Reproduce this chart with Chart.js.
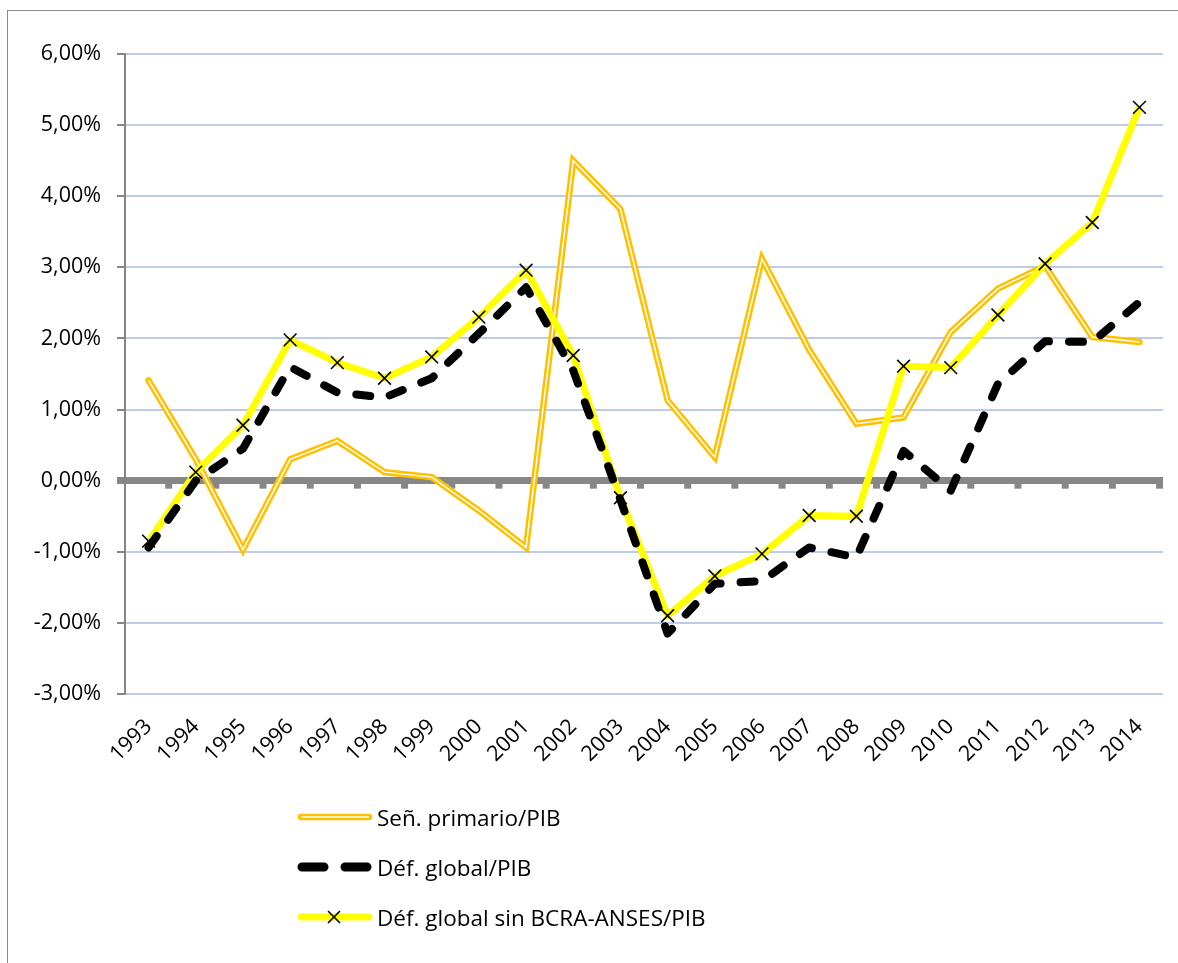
<!DOCTYPE html>
<html>
<head>
<meta charset="utf-8">
<script src="https://cdn.jsdelivr.net/npm/chart.js@4.4.1/dist/chart.umd.min.js"></script>
<style>
  body { margin: 0; background: #fff; }
  #wrap { position: relative; width: 1178px; height: 963px; overflow: hidden; }
  #frame { position: absolute; left: 7px; top: 10px; width: 1300px; height: 1100px;
           border-left: 1.5px solid #8c8c8c; border-top: 1.5px solid #8c8c8c; }
  #legend { position: absolute; left: 297px; top: 792px; font-family: "Open Sans", sans-serif;
            font-size: 22.5px; color: #000; }
  .row { display: flex; align-items: center; height: 50px; }
  .row svg { margin-right: 4px; }
</style>
</head>
<body>
<div id="wrap">
  <div id="frame"></div>
  <canvas id="chart" width="1178" height="963"></canvas>
  <div id="legend"></div>
</div>
<script>
// data
const years = ['1993', '1994', '1995', '1996', '1997', '1998', '1999', '2000', '2001', '2002', '2003',
               '2004', '2005', '2006', '2007', '2008', '2009', '2010', '2011', '2012', '2013', '2014'];
const primario = [1.41, 0.30, -0.97, 0.30, 0.56, 0.12, 0.05, -0.42, -0.94, 4.50, 3.82,
                  1.13, 0.33, 3.12, 1.84, 0.80, 0.89, 2.09, 2.70, 3.02, 2.02, 1.95];
const global = [-0.94, 0.00, 0.45, 1.60, 1.24, 1.17, 1.44, 2.07, 2.72, 1.55, -0.27,
                -2.15, -1.45, -1.41, -0.94, -1.08, 0.42, -0.14, 1.36, 1.96, 1.95, 2.51];
const sinBcra = [-0.85, 0.12, 0.78, 1.98, 1.66, 1.44, 1.74, 2.30, 2.96, 1.76, -0.24,
                 -1.90, -1.34, -1.03, -0.49, -0.50, 1.61, 1.59, 2.33, 3.05, 3.63, 5.25];
const yTickLabels = ['-3,00%', '-2,00%', '-1,00%', '0,00%', '1,00%', '2,00%', '3,00%', '4,00%', '5,00%', '6,00%'];
const seriesNames = ['Señ. primario/PIB', 'Déf. global/PIB', 'Déf. global sin BCRA-ANSES/PIB'];

const ORANGE = '#ffc000';
const YELLOW = '#ffff00';
const FONT = '"Open Sans", sans-serif';

// little ticks hanging under the zero line, at category boundaries
const zeroTicks = {
    id: 'zeroTicks',
    beforeDatasetsDraw(chart) {
        const x = chart.scales.x, y = chart.scales.y;
        const y0 = y.getPixelForValue(0);
        const step = x.getPixelForValue(1) - x.getPixelForValue(0);
        const ctx = chart.ctx;
        ctx.save();
        ctx.fillStyle = '#878787';
        for (let i = 0; i < years.length; i++) {
            const bx = x.getPixelForValue(i) + step / 2;
            ctx.fillRect(bx - 7, y0 + 3, 7, 5);
        }
        ctx.restore();
    }
};

const ctx = document.getElementById('chart').getContext('2d');
const chart = new Chart(ctx, {
    type: 'line',
    data: {
        labels: years,
        datasets: [
            {
                label: seriesNames[1],
                data: global,
                borderColor: '#000',
                borderWidth: 8,
                borderDash: [14, 20],
                borderCapStyle: 'round',
                borderJoinStyle: 'round',
                pointRadius: 0,
                tension: 0,
                order: 0
            },
            {
                label: seriesNames[2],
                data: sinBcra,
                borderColor: YELLOW,
                borderWidth: 7,
                borderJoinStyle: 'round',
                pointStyle: 'crossRot',
                pointRadius: 9,
                pointBorderColor: '#000',
                pointBorderWidth: 1.6,
                tension: 0,
                order: 1
            },
            {
                label: 'inner',
                data: primario,
                borderColor: '#fff',
                borderWidth: 1.5,
                pointRadius: 0,
                tension: 0,
                order: 2
            },
            {
                label: seriesNames[0],
                data: primario,
                borderColor: ORANGE,
                borderWidth: 6.5,
                borderCapStyle: 'round',
                pointRadius: 0,
                tension: 0,
                order: 3
            }
        ]
    },
    options: {
        responsive: false,
        animation: false,
        layout: { padding: { top: 54, right: 13, bottom: 0, left: 0 } },
        plugins: {
            legend: { display: false },
            tooltip: { enabled: false }
        },
        scales: {
            x: {
                offset: true,
                grid: { display: false, drawTicks: false },
                border: { display: false },
                ticks: {
                    color: '#000',
                    font: { family: FONT, size: 21.5 },
                    maxRotation: 45,
                    minRotation: 45,
                    padding: 20,
                    autoSkip: false
                },
                afterFit: (scale) => { scale.height = 269; }
            },
            y: {
                min: -3,
                max: 6,
                ticks: {
                    stepSize: 1,
                    color: '#000',
                    font: { family: FONT, size: 21.5 },
                    padding: 16,
                    callback: (v) => yTickLabels[Math.round(v) + 3]
                },
                grid: {
                    color: (c) => c.tick && c.tick.value === 0 ? '#878787' : '#bccbe8',
                    lineWidth: (c) => c.tick && c.tick.value === 0 ? 7 : 2,
                    tickColor: '#868686',
                    tickLength: 8
                },
                border: { color: '#868686', width: 2 },
                afterFit: (scale) => { scale.width = 125; }
            }
        }
    },
    plugins: [zeroTicks]
});

// legend
const legendSymbols = [
    '<svg width="76" height="14"><line x1="4" y1="7" x2="72" y2="7" stroke="' + ORANGE + '" stroke-width="6.5" stroke-linecap="round"/>' +
    '<line x1="4" y1="7" x2="72" y2="7" stroke="#fff" stroke-width="1.5"/></svg>',
    '<svg width="76" height="14"><line x1="5" y1="7" x2="71" y2="7" stroke="#000" stroke-width="9" stroke-linecap="round" stroke-dasharray="22 21"/></svg>',
    '<svg width="76" height="18"><line x1="4" y1="9" x2="72" y2="9" stroke="' + YELLOW + '" stroke-width="7" stroke-linecap="round"/>' +
    '<path d="M31 3 L43 15 M43 3 L31 15" stroke="#000" stroke-width="1.6"/></svg>'
];
const legendEl = document.getElementById('legend');
seriesNames.forEach((name, i) => {
    const row = document.createElement('div');
    row.className = 'row';
    row.innerHTML = legendSymbols[i] + '<span>' + name + '</span>';
    legendEl.appendChild(row);
});
</script>
</body>
</html>
